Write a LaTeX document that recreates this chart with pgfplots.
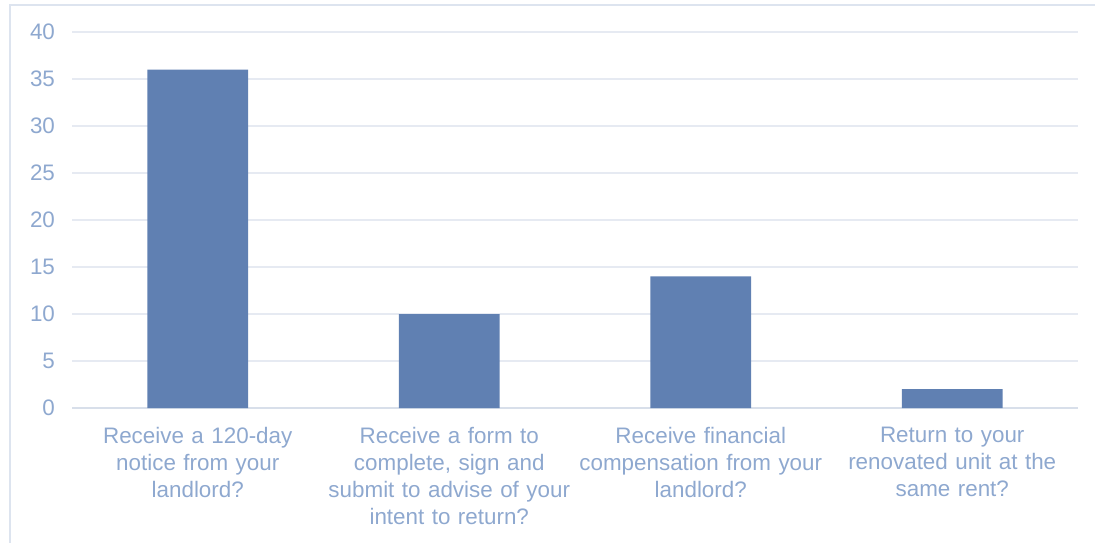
\documentclass[border=0pt]{standalone}
\usepackage{fontspec}
\setmainfont{Liberation Sans}
\usepackage{pgfplots}
\pgfplotsset{compat=1.18}
\definecolor{barblue}{HTML}{6080B2}
\definecolor{ticklbl}{HTML}{8EA8CF}
\definecolor{gridc}{HTML}{E6EAF2}
\definecolor{axisc}{HTML}{D8DFEA}
\definecolor{framec}{HTML}{DDE4EF}

\begin{document}
\begin{tikzpicture}
\useasboundingbox (0,0) rectangle (547.5pt,271pt);
% outer chart frame, only left and top edges show
\draw[framec, line width=0.8pt] (5pt,-5pt) -- (5pt,268.5pt) -- (560pt,268.5pt);
\begin{axis}[
  at={(36pt,67pt)}, anchor=south west,
  scale only axis, width=503pt, height=188pt,
  xmin=-0.5, xmax=3.5, ymin=0, ymax=40,
  xtick={0,1,2,3},
  xticklabels={
    {Receive a 120-day\\notice from your\\landlord?},
    {Receive a form to\\complete, sign and\\submit to advise of your\\intent to return?},
    {Receive financial\\compensation from your\\landlord?},
    {Return to your\\renovated unit at the\\same rent?}},
  ytick={0,5,...,40},
  major tick length=0pt,
  axis x line*=bottom, axis y line*=left,
  x axis line style={draw=axisc, line width=0.9pt, -},
  y axis line style={draw=none},
  ymajorgrids, grid style={gridc, line width=0.8pt},
  /pgf/number format/assume math mode=true,
  tick label style={ticklbl, font=\fontsize{11.2}{13.5}\selectfont},
  yticklabel style={anchor=east, xshift=-5pt},
  xticklabel style={align=center, text width=135pt, anchor=north, yshift=-6pt},
]
\addplot[ybar, bar width=0.4, fill=barblue, draw=none] coordinates {(0,36) (1,10) (2,14) (3,2)};
\end{axis}
\end{tikzpicture}
\end{document}
